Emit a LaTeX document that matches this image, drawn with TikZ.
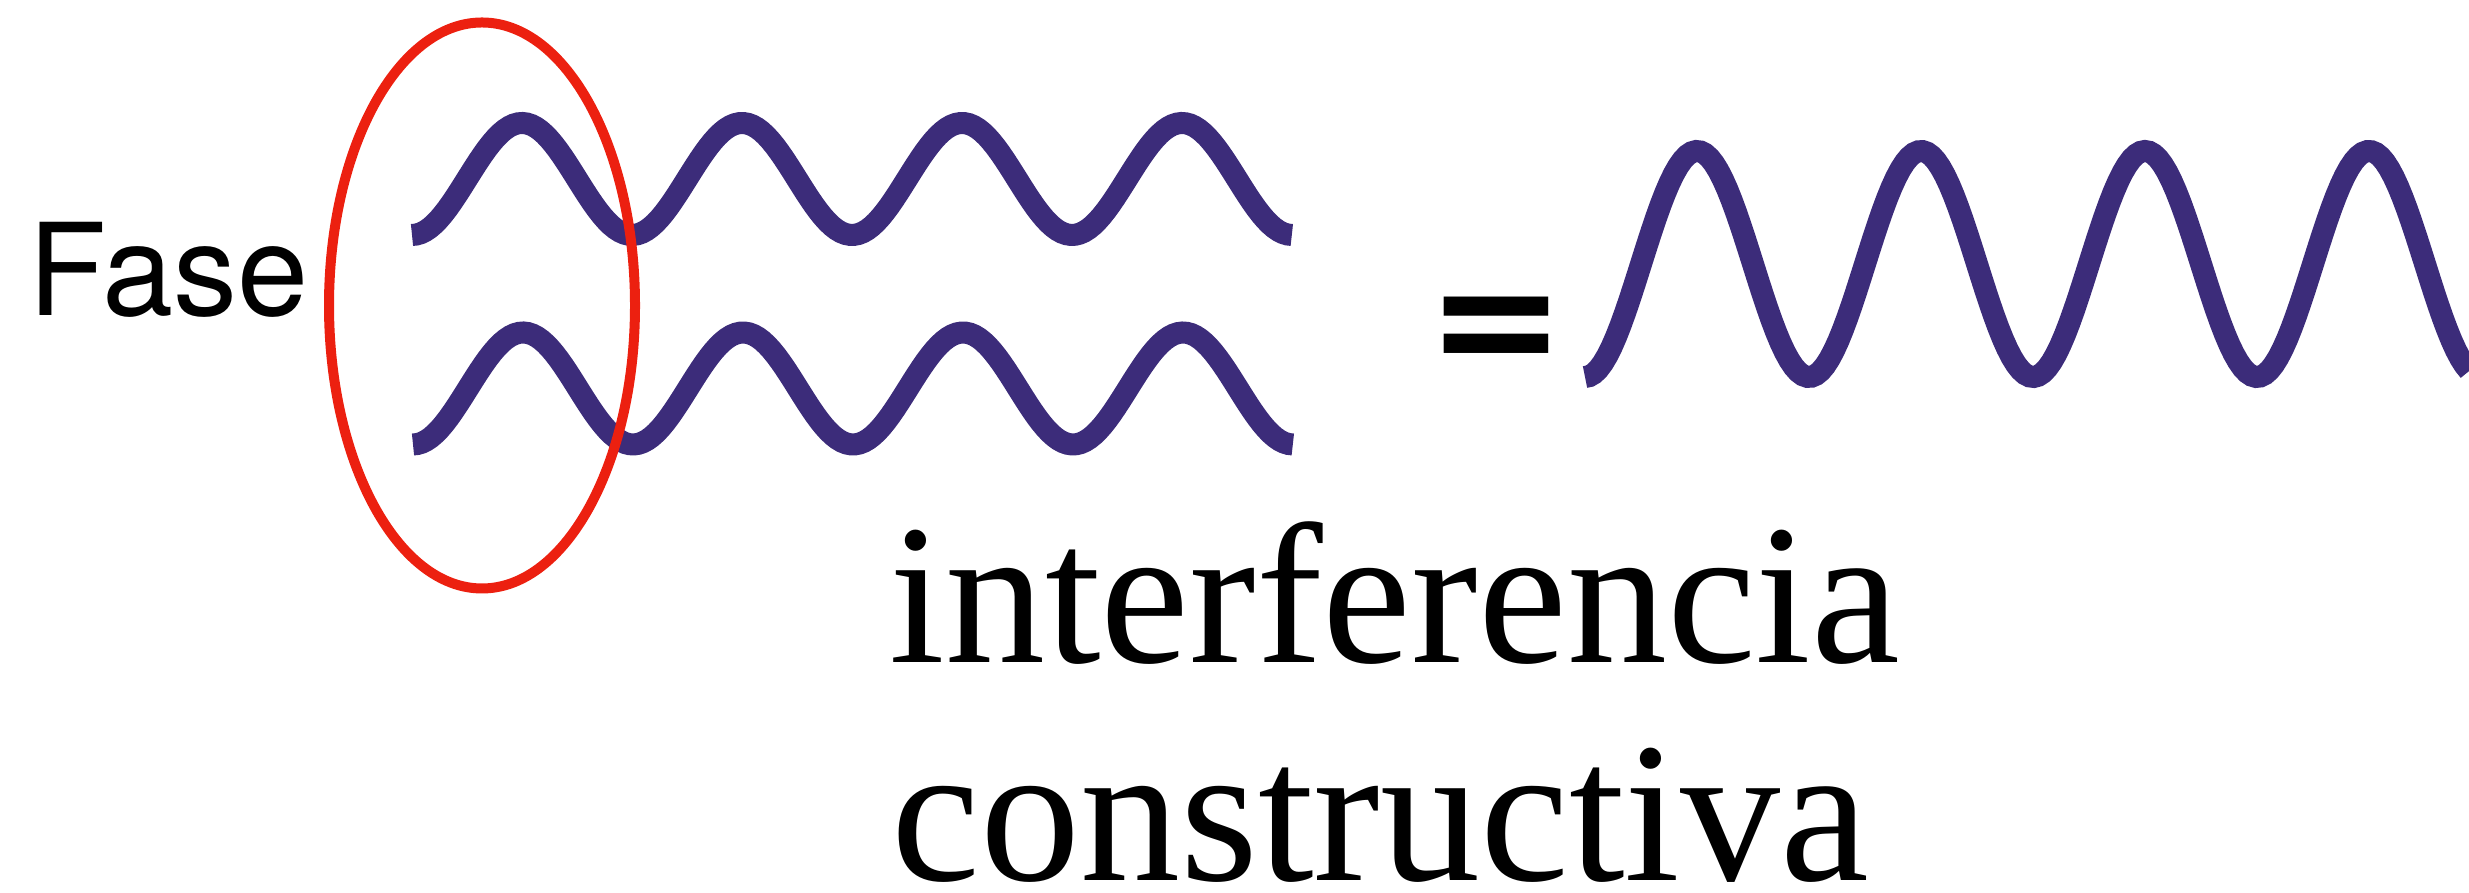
\documentclass[tikz,border=0pt]{standalone}
\usepackage{fontspec}
\setmainfont{Liberation Serif}
\newfontfamily\fasefont{TeX Gyre Heros}
\newfontfamily\igualfont{DejaVu Sans}
\usepackage{tikz}
\definecolor{ondacolor}{RGB}{60,44,122}
\definecolor{marcorojo}{RGB}{236,32,16}

\begin{document}
\begin{tikzpicture}[x=1cm,y=1cm,
    onda/.style={line width=0.22cm,ondacolor,line cap=butt},
    texto/.style={inner sep=0pt,font=\fontsize{56.9}{60}\selectfont}]

  \useasboundingbox (0,0) rectangle (24.69,8.93);

  % ------- 見出し：Fase -------
  \node[inner sep=0pt,anchor=base west,font=\fasefont\fontsize{36.4}{40}\selectfont]
    (fase) at (0.28,5.77) {Fase};

  %================= 左：同位相の二つの波 =================
  \draw[onda] plot[domain=0:4,samples=200] ({4.12+2.2*\x},{7.14-0.56*cos(360*\x)});   % 上の波
  \draw[onda] plot[domain=0:4,samples=200] ({4.13+2.2*\x},{5.045-0.56*cos(360*\x)});  % 下の波

  % 位相を示す赤い楕円
  \draw[marcorojo,line width=0.1cm] (4.82,5.875) ellipse (1.53 and 2.83);

  %================= 右：合成波 =================
  \node[texto,anchor=base,font=\igualfont\bfseries\fontsize{47.5}{50}\selectfont] (igual) at (14.96,5.15) {=};
  \draw[onda] plot[domain=0:3.95,samples=200] ({15.85+2.24*\x},{6.29-1.13*cos(360*\x)});

  % ------- 説明文 -------
  \node[texto,anchor=base west] (linea1) at (8.89,2.30) {interferencia};
  \node[texto,anchor=base west] (linea2) at (8.91,0.12) {constructiva};

\end{tikzpicture}
\end{document}
